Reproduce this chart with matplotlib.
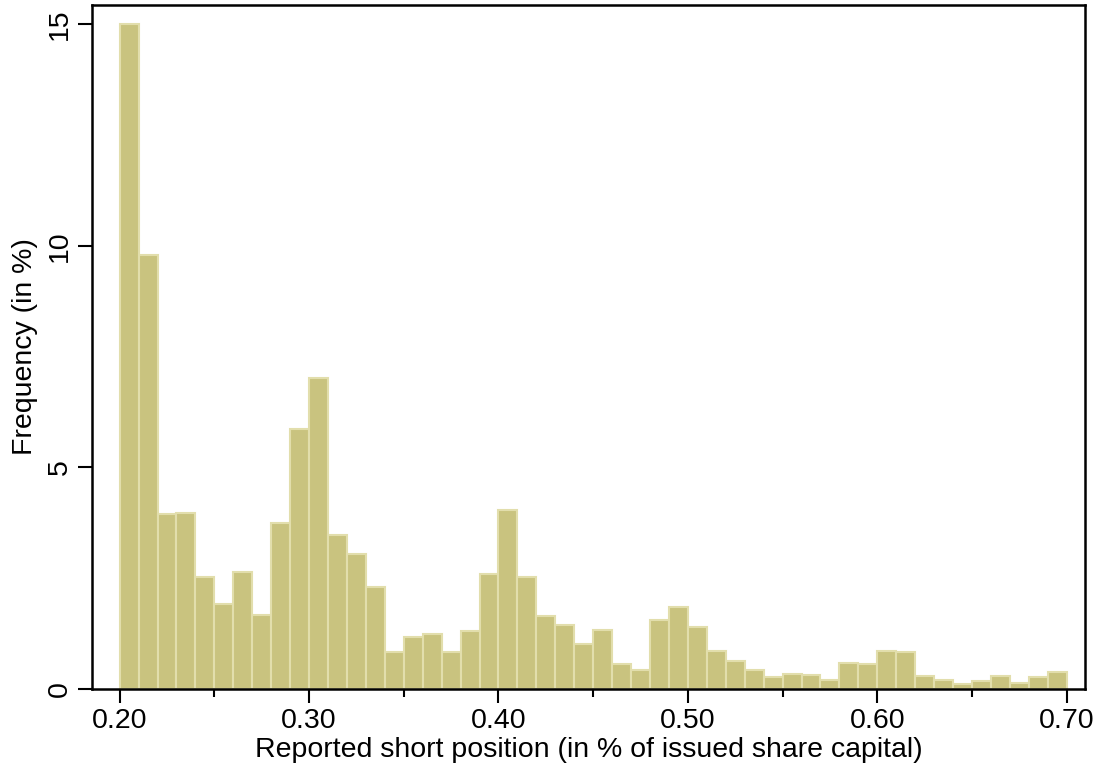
import matplotlib
matplotlib.use("Agg")
import matplotlib.pyplot as plt
import numpy as np

plt.rcParams['font.family'] = ['Liberation Sans', 'DejaVu Sans']

bin_start = 0.20
bin_width = 0.01
freq = [15.00, 9.79, 3.94, 3.96, 2.53, 1.92, 2.63, 1.68, 3.75, 5.86,
        7.02, 3.48, 3.05, 2.31, 0.83, 1.17, 1.24, 0.83, 1.32, 2.59,
        4.03, 2.53, 1.64, 1.44, 1.01, 1.34, 0.56, 0.43, 1.56, 1.86,
        1.41, 0.86, 0.64, 0.44, 0.26, 0.35, 0.31, 0.20, 0.59, 0.56,
        0.85, 0.83, 0.30, 0.20, 0.12, 0.17, 0.29, 0.13, 0.26, 0.39]
xticks = [0.20, 0.30, 0.40, 0.50, 0.60, 0.70]
xtick_labels = ["0.20", "0.30", "0.40", "0.50", "0.60", "0.70"]
xminor = [0.25, 0.35, 0.45, 0.55, 0.65]
yticks = [0, 5, 10, 15]

edges = bin_start + bin_width * np.arange(len(freq))

fig = plt.figure(figsize=(11.02, 7.69), dpi=100)
ax = fig.add_axes([0.0835, 0.104, 0.9846 - 0.0835, 0.9935 - 0.104])

ax.bar(edges, freq, width=bin_width, align='edge', color='#C9C37F',
       edgecolor='#E2DEAC', linewidth=1.5)

ax.set_xlim(0.1854, 0.7097)
ax.set_ylim(0, 15.43)
ax.set_xticks(xticks)
ax.set_xticklabels(xtick_labels)
ax.set_xticks(xminor, minor=True)
ax.set_yticks(yticks)
ax.set_yticklabels([str(v) for v in yticks], rotation=90, va='center')

for s in ax.spines.values():
    s.set_linewidth(1.8)
    s.set_color('black')

ax.tick_params(axis='both', which='major', direction='out', length=10, width=1.5,
               labelsize=20.5, pad=4)
ax.tick_params(axis='x', which='minor', direction='out', length=6, width=1.5)

ax.set_xlabel("Reported short position (in % of issued share capital)", fontsize=20.5, labelpad=2)
ax.set_ylabel("Frequency (in %)", fontsize=20.5, labelpad=6)

fig.savefig("out.png", dpi=100)
